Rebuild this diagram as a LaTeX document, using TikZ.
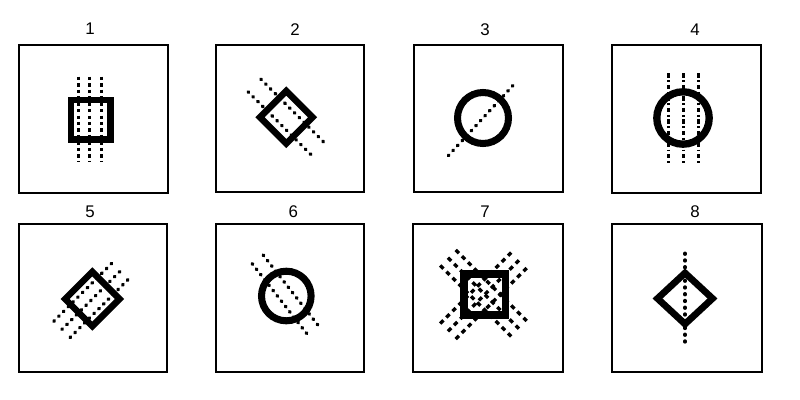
\documentclass[tikz,border=0pt]{standalone}
\usepackage{fontspec}
\setmainfont{Liberation Sans}
\usepackage{tikz}
\usetikzlibrary{calc}
\tikzset{
  frame/.style={line width=0.9pt, black},
  shapeln/.style={line width=4.6pt, black, line join=miter},
  dotln/.style={line width=2.5pt, line cap=round, dash pattern=on 0.6pt off 4.2pt},
  dashln/.style={line width=2.2pt, dash pattern=on 2.4pt off 2.2pt},
  longdashln/.style={line width=2.4pt, dash pattern=on 3.2pt off 3pt},
  dashdotln/.style={line width=2.3pt, dash pattern=on 3pt off 2pt on 1.2pt off 2pt},
  numlbl/.style={font=\fontsize{12}{14}\selectfont, inner sep=0pt},
}
\begin{document}
\begin{tikzpicture}[x=0.025cm, y=-0.025cm]
  \useasboundingbox (0,0) rectangle (800,400);
  \fill[white] (0,0) rectangle (800,400);

  % panel 1: square, three vertical dashed lines
  \draw[frame] (19,45) rectangle (168,193);
  \node[numlbl] (lbl1) at (90,29) {1};
  \draw[shapeln] (71,100) rectangle (110.5,139.5);
  \foreach \xx in {78.3,89.3,101.7}
    \draw[dashln] (\xx,76.7) -- (\xx,161.7);

  % panel 2: tilted square, two dotted lines
  \draw[frame] (216,45) rectangle (364,192);
  \node[numlbl] (lbl2) at (295,30) {2};
  \begin{scope}[shift={(286.3,117.3)}, rotate=-45]
    \draw[shapeln] (-18.6,-18.6) rectangle (18.6,18.6);
    \foreach \yy in {-9,9}
      \draw[dotln] (-45,\yy) -- (45,\yy);
  \end{scope}

  % panel 3: circle, one dotted diagonal
  \draw[frame] (414,45) rectangle (563,192);
  \node[numlbl] (lbl3) at (485,29.3) {3};
  \draw[shapeln, line width=5pt] (483,118) circle (25.5);
  \draw[dotln] (448.3,155.7) -- (514.3,84);

  % panel 4: circle, three vertical dash-dot lines
  \draw[frame] (612,45) rectangle (761,193);
  \node[numlbl] (lbl4) at (695,29.7) {4};
  \draw[shapeln, line width=5.2pt] (683,118) circle (26.2);
  \foreach \xx in {668.3,683.3,698.3}
    \draw[dashdotln] (\xx,73.3) -- (\xx,162.7);

  % panel 5: tilted square, three dotted lines
  \draw[frame] (19,224) rectangle (167,372);
  \node[numlbl] (lbl5) at (90,211.7) {5};
  \begin{scope}[shift={(92.3,299)}, rotate=45]
    \draw[shapeln] (-19.2,-19.2) rectangle (19.2,19.2);
    \foreach \yy in {-11.5,0,11.5}
      \draw[dotln] (-43,\yy) -- (43,\yy);
  \end{scope}

  % panel 6: circle, two dotted lines
  \draw[frame] (216,224) rectangle (364,372);
  \node[numlbl] (lbl6) at (293.3,211.7) {6};
  \draw[shapeln, line width=5pt] (286.3,296) circle (24.8);
  \begin{scope}[shift={(286.3,296)}, rotate=-52]
    \foreach \yy in {-7,7}
      \draw[dotln] (-46.5,\yy) -- (46.5,\yy);
  \end{scope}

  % panel 7: square, crossed dashed lines
  \draw[frame] (413,224) rectangle (563,372);
  \node[numlbl] (lbl7) at (485,211.7) {7};
  \draw[shapeln, line width=5.4pt] (464,274) rectangle (505.5,315);
  \foreach \ang in {45,-45}{
    \begin{scope}[shift={(484.7,294.5)}, rotate=\ang]
      \foreach \yy in {-11,0,11}
        \draw[longdashln] (-52,\yy) -- (52,\yy);
    \end{scope}
  }

  % panel 8: diamond, one vertical dotted line
  \draw[frame] (612,224) rectangle (762,372);
  \node[numlbl] (lbl8) at (695,212) {8};
  \draw[shapeln, line width=4.8pt] (685,273) -- (712.5,298.5) -- (685,324) -- (657.5,298.5) -- cycle;
  \draw[dotln] (685,253.3) -- (685,345);
\end{tikzpicture}
\end{document}
